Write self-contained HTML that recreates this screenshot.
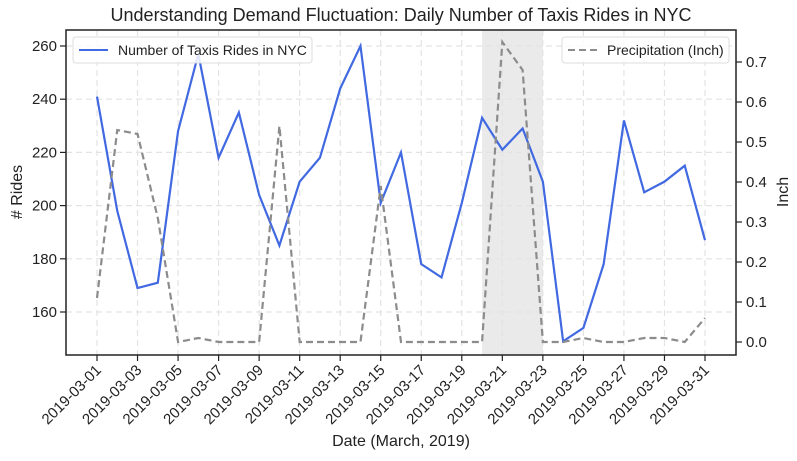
<!DOCTYPE html>
<html><head><meta charset="utf-8"><style>
body{margin:0;background:#fff;font-family:"Liberation Sans",sans-serif}
svg text{font-family:"Liberation Sans",sans-serif;fill:#222}
</style></head><body>
<svg width="797" height="456" id="c"></svg>
<script>
const days=[1,2,3,4,5,6,7,8,9,10,11,12,13,14,15,16,17,18,19,20,21,22,23,24,25,26,27,28,29,30,31];
const rides=[241,198,169,171,228,257,218,235,204,185,209,218,244,260,201,220,178,173,201,233,221,229,209,149,154,178,232,205,209,215,187];
const precip=[0.11,0.53,0.52,0.31,0.0,0.01,0,0,0,0.54,0,0,0,0,0.39,0,0,0,0,0,0.75,0.68,0,0,0.01,0,0,0.01,0.01,0,0.06];
const leftTicks=[160,180,200,220,240,260];
const rightTicks=[0.0,0.1,0.2,0.3,0.4,0.5,0.6,0.7];
const xTickDays=[1,3,5,7,9,11,13,15,17,19,21,23,25,27,29,31];
const shade=[20,23];
const NS="http://www.w3.org/2000/svg";
const svg=document.getElementById('c');
const L=66,R=736,T=30,B=355;
const x=d=>97+(d-1)*(705-97)/30;
const yl=v=>312+(160-v)*(266/100);
const yr=v=>342-v*400;
function el(t,a,p){const e=document.createElementNS(NS,t);for(const k in a)e.setAttribute(k,a[k]);(p||svg).appendChild(e);return e;}
let s=el('rect',{x:x(shade[0]),y:T,width:x(shade[1])-x(shade[0]),height:B-T,fill:'#d9d9d9','fill-opacity':0.55});


xTickDays.forEach(d=>{const g=el('line',{x1:x(d),x2:x(d),y1:T,y2:B,stroke:'#e3e3e3','stroke-dasharray':'6,4','stroke-width':1.2});


const t=el('line',{x1:x(d),x2:x(d),y1:B,y2:B+6,stroke:'#222','stroke-width':1.2});


const lb=el('text',{x:x(d)+5,y:B+16,'font-size':15,'text-anchor':'end',transform:`rotate(-45 ${x(d)+5} ${B+16})`});
lb.textContent='2019-03-'+String(d).padStart(2,'0');

});
leftTicks.forEach(v=>{const g=el('line',{x1:L,x2:R,y1:yl(v),y2:yl(v),stroke:'#e3e3e3','stroke-dasharray':'6,4','stroke-width':1.2});


const t=el('line',{x1:L-6,x2:L,y1:yl(v),y2:yl(v),stroke:'#222','stroke-width':1.2});


const lb=el('text',{x:L-9,y:yl(v)+5,'font-size':15,'text-anchor':'end'});lb.textContent=v;

});
rightTicks.forEach(v=>{const t=el('line',{x1:R,x2:R+6,y1:yr(v),y2:yr(v),stroke:'#222','stroke-width':1.2});


const lb=el('text',{x:R+10,y:yr(v)+5,'font-size':15});lb.textContent=v.toFixed(1);

});
const rl=el('polyline',{points:days.map((d,i)=>x(d)+','+yl(rides[i])).join(' '),fill:'none',stroke:'#4169e1','stroke-width':2.2});


const pl=el('polyline',{points:days.map((d,i)=>x(d)+','+yr(precip[i])).join(' '),fill:'none',stroke:'#8c8c8c','stroke-width':2.2,'stroke-dasharray':'7,4'});


const fr=el('rect',{x:L,y:T,width:R-L,height:B-T,fill:'none',stroke:'#222','stroke-width':1.5});


</script>
<svg width="797" height="456" style="position:absolute;left:0;top:0">
<text x="401" y="21" font-size="18" text-anchor="middle">Understanding Demand Fluctuation: Daily Number of Taxis Rides in NYC</text>
<text x="401" y="446" font-size="16" text-anchor="middle">Date (March, 2019)</text>
<text x="22" y="192" font-size="16" text-anchor="middle" transform="rotate(-90 22 192)"># Rides</text>
<text x="788" y="192" font-size="16" text-anchor="middle" transform="rotate(-90 788 192)">Inch</text>
<g>
<rect x="73" y="37" width="239" height="26" rx="3" fill="#fff" fill-opacity="0.85" stroke="#ddd"/>
<line x1="79" y1="50" x2="108" y2="50" stroke="#4169e1" stroke-width="2"/>
<text x="118" y="55" font-size="14">Number of Taxis Rides in NYC</text></g>
<g>
<rect x="562" y="37" width="167" height="26" rx="3" fill="#fff" fill-opacity="0.85" stroke="#ddd"/>
<line x1="568" y1="50" x2="597" y2="50" stroke="#8c8c8c" stroke-width="2" stroke-dasharray="7,4"/>
<text x="607" y="55" font-size="14">Precipitation (Inch)</text></g>
</svg>
</body></html>
